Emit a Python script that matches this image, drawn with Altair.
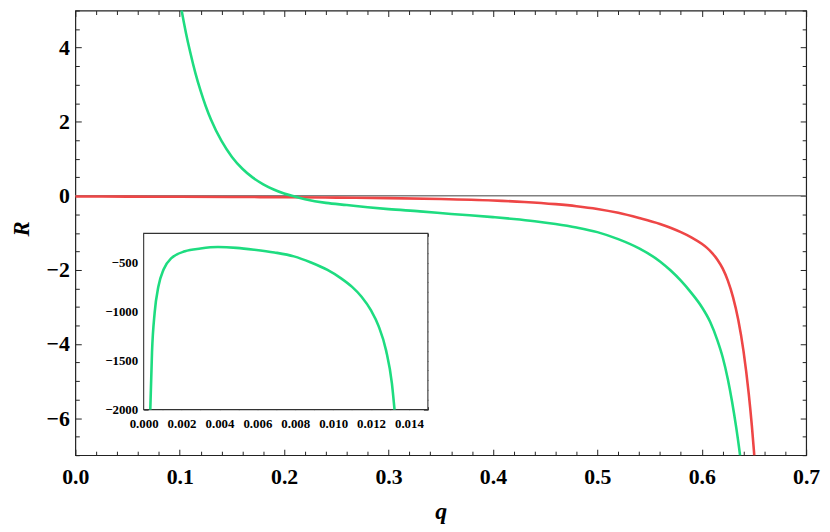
import altair as alt
import pandas as pd

# ---------------- data ----------------
q_red = [0.0, 0.05, 0.10, 0.15, 0.20, 0.25, 0.30, 0.35, 0.40, 0.43, 0.46, 0.48, 0.50,
         0.52, 0.54, 0.56, 0.57, 0.58, 0.59, 0.60, 0.605, 0.61, 0.615, 0.62, 0.625,
         0.63, 0.635, 0.64, 0.645, 0.648, 0.650, 0.652]
R_red = [-0.02, -0.022, -0.026, -0.031, -0.038, -0.048, -0.062, -0.085, -0.125, -0.165,
         -0.225, -0.28, -0.355, -0.46, -0.60, -0.76, -0.86, -0.98, -1.12, -1.295,
         -1.405, -1.545, -1.725, -1.96, -2.29, -2.74, -3.35, -4.19, -5.34, -6.21, -6.89,
         -7.67]

q_green = [0.098, 0.1015, 0.106, 0.110, 0.115, 0.120, 0.125, 0.130, 0.140, 0.150, 0.160,
           0.170, 0.180, 0.190, 0.200, 0.210, 0.220, 0.240, 0.260, 0.280, 0.300, 0.330,
           0.360, 0.400, 0.420, 0.440, 0.460, 0.480, 0.500, 0.520, 0.540, 0.560, 0.570,
           0.580, 0.590, 0.600, 0.608, 0.615, 0.620, 0.625, 0.629, 0.633, 0.636, 0.638,
           0.641]
R_green = [5.62, 5.05, 4.39, 3.88, 3.31, 2.83, 2.41, 2.05, 1.48, 1.05, 0.73,
           0.49, 0.31, 0.17, 0.06, -0.02, -0.09, -0.19, -0.25, -0.31, -0.36, -0.42,
           -0.49, -0.575, -0.625, -0.685, -0.76, -0.855, -0.98, -1.17, -1.42, -1.77, -2.01,
           -2.29, -2.62, -3.00, -3.40, -3.90, -4.35, -4.95, -5.55, -6.25, -6.85, -7.30,
           -8.00]

q_inset = [0.00035, 0.00044, 0.00058, 0.00078, 0.00105, 0.00148, 0.00218, 0.00300,
           0.00392, 0.00490, 0.00584, 0.00690, 0.00793, 0.00880, 0.00970, 0.01040,
           0.01100, 0.01150, 0.01200, 0.01240, 0.01280, 0.01310, 0.01324]
R_inset = [-2000, -1415, -1010, -740, -570, -450, -383, -355, -340, -348, -367, -395,
           -435, -495, -574, -657, -747, -847, -987, -1147, -1400, -1730, -2000]

x_major = [0.0, 0.1, 0.2, 0.3, 0.4, 0.5, 0.6, 0.7]
y_major = [-6, -4, -2, 0, 2, 4]
ix_major = [0.0, 0.002, 0.004, 0.006, 0.008, 0.010, 0.012, 0.014]
iy_major = [-2000, -1500, -1000, -500]

x_minor = [round(i * 0.02, 2) for i in range(36) if i % 5]
y_minor = [v / 2 for v in range(-14, 11) if v % 4]
ix_minor = [round(i * 0.001, 3) for i in range(16) if i % 2]
iy_minor = [v for v in range(-2000, -199, 100) if v % 500]

X_DOM, Y_DOM = [0, 0.7], [-7, 5]
IX_DOM, IY_DOM = [0, 0.015], [-2000, -200]

# ---------------- layout ----------------
W, H = 738, 449
IX_RANGE = [69, 356]      # inset plot area in main plot pixel coords
IY_RANGE = [403, 225]

GREEN = "#1EDC80"
RED = "#EE4646"
TICK = "#222222"
FONT = "Liberation Serif"

xs = alt.Scale(domain=X_DOM, nice=False, zero=False)
ys = alt.Scale(domain=Y_DOM, nice=False, zero=False)
ixs = alt.Scale(domain=IX_DOM, range=IX_RANGE, nice=False, zero=False)
iys = alt.Scale(domain=IY_DOM, range=IY_RANGE, nice=False, zero=False)

MINUS = "replace(datum.label, '-', '\u2212')"


def tax(orient, values, size, offset, **kw):
    base = dict(orient=orient, values=values, tickSize=size, offset=offset,
                domain=False, grid=False, labels=False, ticks=True,
                tickColor=TICK, tickWidth=1, title=None)
    base.update(kw)
    return alt.Axis(**base)


def axis_layer(xscale, yscale, xaxis, yaxis, xv, yv):
    df = pd.DataFrame({"x": [xv], "y": [yv]})
    return alt.Chart(df).mark_point(opacity=0).encode(
        x=alt.X("x:Q", scale=xscale, axis=xaxis),
        y=alt.Y("y:Q", scale=yscale, axis=yaxis),
    )


lab_main = dict(labels=True, labelFont=FONT, labelFontWeight="bold", labelFontSize=22,
                labelColor="black", labelFlush=False, labelOverlap=False, labelExpr=MINUS)
lab_in = dict(labels=True, labelFont=FONT, labelFontWeight="bold", labelFontSize=13,
              labelColor="black", labelFlush=False, labelOverlap=False, labelExpr=MINUS)

layers = []

# zero line
layers.append(
    alt.Chart(pd.DataFrame({"y": [0]})).mark_rule(color="#808080", strokeWidth=1.4).encode(
        y=alt.Y("y:Q", scale=ys, axis=None))
)

# main curves
for qv, rv, col in [(q_red, R_red, RED), (q_green, R_green, GREEN)]:
    layers.append(
        alt.Chart(pd.DataFrame({"q": qv, "R": rv})).mark_line(
            color=col, strokeWidth=2.6, clip=True, interpolate="monotone").encode(
            x=alt.X("q:Q", scale=xs, axis=None),
            y=alt.Y("R:Q", scale=ys, axis=None))
    )

# main frame ticks (inward) and labels
layers.append(axis_layer(
    xs, ys,
    tax("bottom", x_major, 6, -6, labelPadding=12, format=".1f", title="q",
        titleFont=FONT, titleFontSize=24, titleFontWeight="bold", titleFontStyle="italic",
        titleColor="black", titleX=W / 2, titleY=70, titleBaseline="alphabetic",
        titleAlign="center", **lab_main),
    tax("left", y_major, 6, -6, labelPadding=6, format="d", title="R",
        titleFont=FONT, titleFontSize=23, titleFontWeight="bold", titleFontStyle="italic",
        titleColor="black", titleX=-53, titleY=220, titleAngle=270,
        titleBaseline="alphabetic", titleAlign="center", **lab_main),
    0.35, 0))
layers.append(axis_layer(xs, ys, tax("bottom", x_minor, 4, -4), tax("left", y_minor, 4, -4), 0.35, 0))
layers.append(axis_layer(xs, ys, tax("top", x_major, 6, -6), tax("right", y_major, 6, -6), 0.35, 0))
layers.append(axis_layer(xs, ys, tax("top", x_minor, 4, -4), tax("right", y_minor, 4, -4), 0.35, 0))

# inset background + frame
layers.append(
    alt.Chart(pd.DataFrame({"x0": [IX_DOM[0]], "x1": [IX_DOM[1]],
                            "y0": [IY_DOM[0]], "y1": [IY_DOM[1]]}))
    .mark_rect(fill="white", stroke="#333333", strokeWidth=1.1)
    .encode(x=alt.X("x0:Q", scale=ixs, axis=None), x2="x1:Q",
            y=alt.Y("y0:Q", scale=iys, axis=None), y2="y1:Q")
)

# inset curve
layers.append(
    alt.Chart(pd.DataFrame({"q": q_inset, "R": R_inset})).mark_line(
        color=GREEN, strokeWidth=2.6, interpolate="monotone").encode(
        x=alt.X("q:Q", scale=ixs, axis=None),
        y=alt.Y("R:Q", scale=iys, axis=None))
)

# inset ticks and labels
IB, IT, IL, IR = IY_RANGE[0], IY_RANGE[1], IX_RANGE[0], IX_RANGE[1]
layers.append(axis_layer(
    ixs, iys,
    tax("bottom", ix_major, 4.5, IB - 4.5 - H, labelPadding=8, format=".3f", **lab_in),
    tax("left", iy_major, 4.5, -(IL + 4.5), labelPadding=6, format="d", **lab_in),
    0.007, -1000))
layers.append(axis_layer(ixs, iys, tax("bottom", ix_minor, 3, IB - 3 - H),
                         tax("left", iy_minor, 3, -(IL + 3)), 0.007, -1000))
layers.append(axis_layer(ixs, iys, tax("top", ix_major, 4.5, -(IT + 4.5)),
                         tax("right", iy_major, 4.5, IR - 4.5 - W), 0.007, -1000))
layers.append(axis_layer(ixs, iys, tax("top", ix_minor, 3, -(IT + 3)),
                         tax("right", iy_minor, 3, IR - 3 - W), 0.007, -1000))

chart = (
    alt.layer(*layers)
    .resolve_scale(x="independent", y="independent")
    .resolve_axis(x="independent", y="independent")
    .properties(width=W, height=H,
                padding={"left": 68, "top": 0, "right": 16, "bottom": 75},
                autosize=alt.AutoSizeParams(type="none"))
    .configure_view(stroke="#222222", strokeWidth=1.2)
)

chart.save("out.html", embed_options={"renderer": "svg", "actions": False})
